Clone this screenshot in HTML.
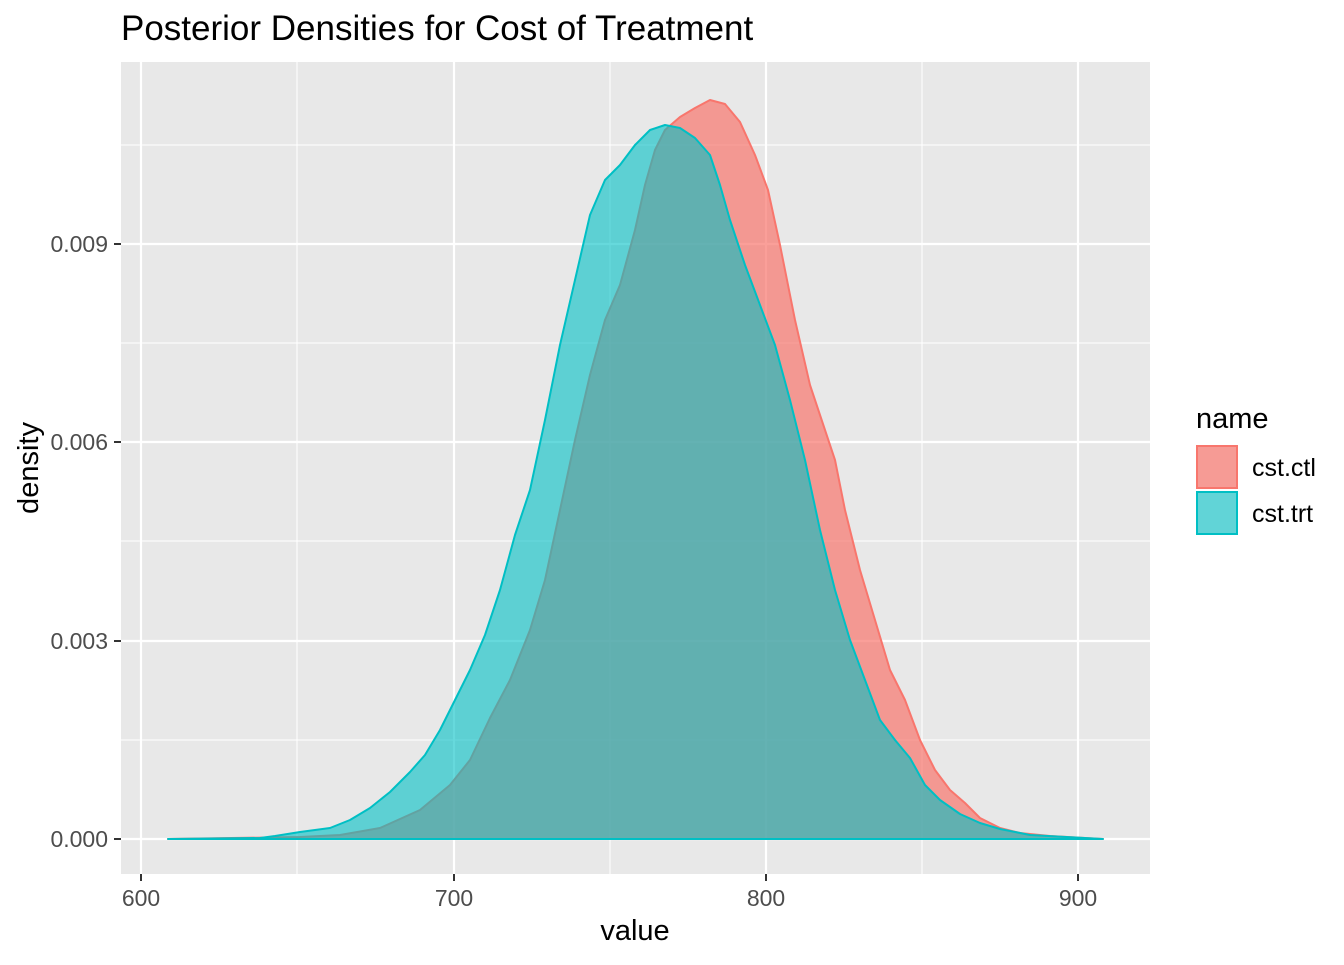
<!DOCTYPE html>
<html><head><meta charset="utf-8"><style>
body{margin:0;background:#fff;}
text{font-family:"Liberation Sans",Arial,sans-serif;}
</style></head><body>
<svg width="1344" height="960" viewBox="0 0 1344 960" xmlns="http://www.w3.org/2000/svg">
<rect width="1344" height="960" fill="#fff"/>
<rect x="121" y="62" width="1029" height="812" fill="#E8E8E8"/>
<g stroke="#fff" stroke-width="1.1">
<line x1="297" y1="62" x2="297" y2="874"/><line x1="610" y1="62" x2="610" y2="874"/><line x1="922" y1="62" x2="922" y2="874"/>
<line x1="121" y1="740" x2="1150" y2="740"/><line x1="121" y1="541" x2="1150" y2="541"/><line x1="121" y1="343" x2="1150" y2="343"/><line x1="121" y1="145" x2="1150" y2="145"/>
</g>
<g stroke="#fff" stroke-width="2.2">
<line x1="141" y1="62" x2="141" y2="874"/><line x1="454" y1="62" x2="454" y2="874"/><line x1="766" y1="62" x2="766" y2="874"/><line x1="1078" y1="62" x2="1078" y2="874"/>
<line x1="121" y1="839" x2="1150" y2="839"/><line x1="121" y1="641" x2="1150" y2="641"/><line x1="121" y1="442" x2="1150" y2="442"/><line x1="121" y1="244" x2="1150" y2="244"/>
</g>
<path d="M168,839 L300,837 L340,835 L380,828 L420,810 L450,785 L470,760 L490,718 L510,680 L530,630 L545,580 L560,510 L575,440 L590,375 L605,320 L620,285 L635,230 L645,185 L655,150 L665,130 L680,117 L695,108 L710,100 L725,104 L740,122 L755,155 L768,190 L780,245 L795,320 L810,385 L825,430 L835,460 L845,510 L860,570 L875,620 L890,670 L905,700 L920,740 L935,770 L950,790 L965,803 L980,818 L1000,828 L1020,833 L1050,836 L1103,839 Z" fill="#F8766D" fill-opacity="0.7" stroke="#F8766D" stroke-width="2" stroke-linejoin="round"/>
<path d="M168,839 L260,838 L275,836 L300,832 L330,828 L350,820 L370,808 L390,792 L410,772 L425,755 L440,730 L455,700 L470,670 L485,635 L500,590 L515,535 L530,490 L545,420 L560,345 L575,280 L590,215 L605,180 L620,165 L635,145 L650,130 L665,125 L680,128 L695,138 L710,155 L720,185 L730,220 L745,265 L760,305 L775,345 L790,400 L805,460 L820,530 L835,590 L850,640 L865,680 L880,720 L895,740 L910,758 L925,785 L940,800 L960,814 L980,823 L1000,829 L1030,835 L1103,839 Z" fill="#00BFC4" fill-opacity="0.6" stroke="#00BFC4" stroke-width="2" stroke-linejoin="round"/>
<g stroke="#333" stroke-width="2">
<line x1="141" y1="874" x2="141" y2="881"/><line x1="454" y1="874" x2="454" y2="881"/><line x1="766" y1="874" x2="766" y2="881"/><line x1="1078" y1="874" x2="1078" y2="881"/>
<line x1="114" y1="839" x2="121" y2="839"/><line x1="114" y1="641" x2="121" y2="641"/><line x1="114" y1="442" x2="121" y2="442"/><line x1="114" y1="244" x2="121" y2="244"/>
</g>
<g font-size="23" fill="#4D4D4D" text-anchor="middle">
<text x="141" y="906">600</text><text x="454" y="906">700</text><text x="766" y="906">800</text><text x="1078" y="906">900</text>
</g>
<g font-size="23" fill="#4D4D4D" text-anchor="end">
<text x="108" y="847">0.000</text><text x="108" y="649">0.003</text><text x="108" y="450">0.006</text><text x="108" y="252">0.009</text>
</g>
<text x="635" y="940" font-size="29" text-anchor="middle" fill="#000">value</text>
<text transform="translate(38,468) rotate(-90)" font-size="29" text-anchor="middle" fill="#000">density</text>
<text x="121" y="40" font-size="35" fill="#000">Posterior Densities for Cost of Treatment</text>
<text x="1196" y="428" font-size="29" fill="#000">name</text>
<rect x="1196" y="445" width="42" height="44" fill="#F2F2F2"/>
<rect x="1197" y="446" width="40" height="42" fill="#F8766D" fill-opacity="0.7" stroke="#F8766D" stroke-width="2"/>
<rect x="1196" y="491" width="42" height="44" fill="#F2F2F2"/>
<rect x="1197" y="492" width="40" height="42" fill="#00BFC4" fill-opacity="0.6" stroke="#00BFC4" stroke-width="2"/>
<text x="1252" y="476" font-size="25" fill="#000">cst.ctl</text>
<text x="1252" y="522" font-size="25" fill="#000">cst.trt</text>
</svg>
</body></html>
